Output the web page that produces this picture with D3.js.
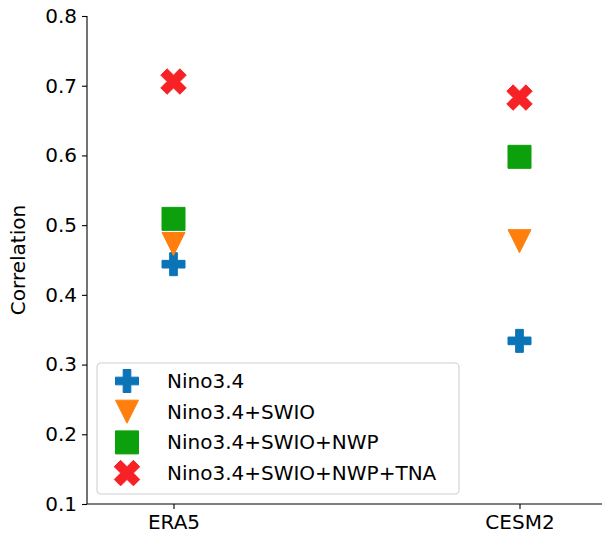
<!DOCTYPE html>
<html lang="en"><head><meta charset="utf-8">
<title>Correlation</title>
<script src="https://cdn.jsdelivr.net/npm/d3@7"></script>
<style>
body { margin: 0; background: #fff; }
text { font-family: "DejaVu Sans", sans-serif; }
</style>
</head>
<body>
<script>
// chart values
var datasets = ["ERA5", "CESM2"];
var seriesNames = ["Nino3.4", "Nino3.4+SWIO", "Nino3.4+SWIO+NWP", "Nino3.4+SWIO+NWP+TNA"];
var nino = [0.444, 0.334];
var ninoSwio = [0.473, 0.477];
var ninoSwioNwp = [0.509, 0.598];
var ninoSwioNwpTna = [0.706, 0.683];
var yTicks = [0.1, 0.2, 0.3, 0.4, 0.5, 0.6, 0.7, 0.8];

var colors = ["#0a74b6", "#ff7f0e", "#0ca00c", "#f72225"];
var shapes = ["plus", "tri", "square", "x"];
var values = [nino, ninoSwio, ninoSwioNwp, ninoSwioNwpTna];

var width = 602, height = 540;
var mLeft = 87, mRight = 606, mTop = 16, mBottom = 504;
var fontSize = 20;

var svg = d3.select("body").append("svg")
    .attr("width", width)
    .attr("height", height);

var x = d3.scaleLinear().domain([-0.25, 1.25]).range([mLeft, mRight]);
var y = d3.scaleLinear().domain([0.1, 0.8]).range([mBottom, mTop]);

// marker path, s = full size in px
function markerPath(shape, s) {
  var h = s / 2, a = s / 6;
  if (shape == "square") return "M" + -h + "," + -h + "H" + h + "V" + h + "H" + -h + "Z";
  if (shape == "tri") return "M" + -h + "," + -h + "L" + h + "," + -h + "L0," + h + "Z";
  var pts = [[-a,-h],[a,-h],[a,-a],[h,-a],[h,a],[a,a],[a,h],[-a,h],[-a,a],[-h,a],[-h,-a],[-a,-a]];
  if (shape == "x") {
    var c = Math.SQRT1_2;
    pts = pts.map(function(p){ return [(p[0] - p[1]) * c, (p[0] + p[1]) * c]; });
  }
  return "M" + pts.map(function(p){ return p[0].toFixed(2) + "," + p[1].toFixed(2); }).join("L") + "Z";
}
var sizes = {plus: 23, tri: 23, square: 23, x: 27};

// axes
var yAxis = d3.axisLeft(y).tickValues(yTicks).tickFormat(d3.format(".1f")).tickSize(5).tickPadding(5);
var xAxis = d3.axisBottom(x).tickValues([0, 1]).tickFormat(function(d){ return datasets[d]; }).tickSize(5).tickPadding(6);

var gy = svg.append("g").attr("transform", "translate(" + mLeft + ",0)").call(yAxis);
var gx = svg.append("g").attr("transform", "translate(0," + mBottom + ")").call(xAxis);
gy.select(".domain").attr("d", "M0," + mBottom + "V" + mTop);
gx.select(".domain").attr("d", "M" + mLeft + ",0H" + mRight);
[gy, gx].forEach(function(g){
  g.select(".domain").attr("stroke", "#000").attr("stroke-width", 1.1);
  g.selectAll(".tick line").attr("stroke", "#000").attr("stroke-width", 1.1);
  g.selectAll(".tick text").attr("fill", "#000").attr("font-size", fontSize)
    .attr("font-family", "DejaVu Sans");
});

svg.append("text")
    .attr("transform", "translate(25," + ((mTop + mBottom) / 2) + ") rotate(-90)")
    .attr("text-anchor", "middle")
    .attr("font-size", fontSize)
    .text("Correlation");

// markers
values.forEach(function(vals, si){
  svg.selectAll(".m" + si)
    .data(vals)
    .enter().append("path")
    .attr("class", "m" + si)
    .attr("transform", function(d, i){ return "translate(" + x(i) + "," + y(d) + ")"; })
    .attr("d", markerPath(shapes[si], sizes[shapes[si]]))
    .attr("fill", colors[si])
    .attr("stroke", colors[si])
    .attr("stroke-width", 1);
});

// legend
var lg = svg.append("g").attr("transform", "translate(97,363)");
lg.append("rect")
    .attr("width", 362).attr("height", 131)
    .attr("rx", 4).attr("ry", 4)
    .attr("fill", "#fff").attr("fill-opacity", 0.8)
    .attr("stroke", "#d0d0d0").attr("stroke-width", 1.1);

var items = lg.selectAll(".item").data(seriesNames).enter().append("g")
    .attr("transform", function(d, i){ return "translate(0," + (18 + i * 30.7) + ")"; });
items.append("path")
    .attr("transform", "translate(30,0)")
    .attr("d", function(d, i){ return markerPath(shapes[i], sizes[shapes[i]]); })
    .attr("fill", function(d, i){ return colors[i]; })
    .attr("stroke", function(d, i){ return colors[i]; });
items.append("text")
    .attr("x", 70).attr("y", 7)
    .attr("font-size", fontSize)
    .text(function(d){ return d; });
</script>
</body></html>
